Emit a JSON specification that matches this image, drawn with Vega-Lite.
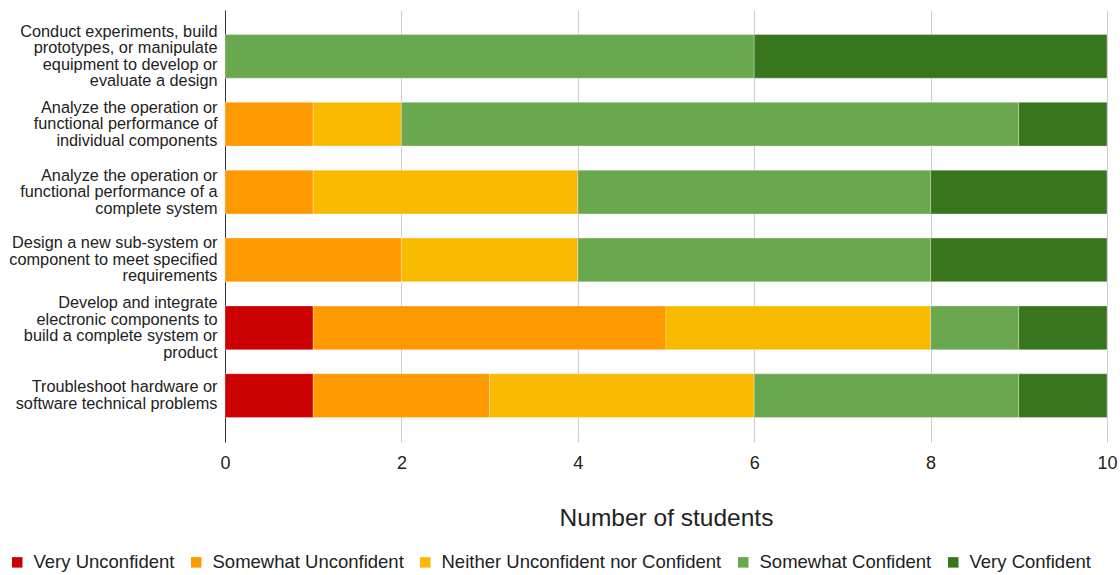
{
  "$schema": "https://vega.github.io/schema/vega-lite/v6.json",
  "width": 882,
  "height": 432,
  "autosize": {"type": "none"},
  "padding": {"left": 225, "top": 10, "right": 13, "bottom": 133},
  "config": {
    "font": "Liberation Sans",
    "view": {"stroke": null},
    "axis": {"labelFont": "Liberation Sans", "titleFont": "Liberation Sans"},
    "legend": {"labelFont": "Liberation Sans"}
  },
  "data": {
    "values": [
      {"q": "Conduct experiments, build|prototypes, or manipulate|equipment to develop or|evaluate a design", "level": "Somewhat Confident", "score": 4, "n": 6},
      {"q": "Conduct experiments, build|prototypes, or manipulate|equipment to develop or|evaluate a design", "level": "Very Confident", "score": 5, "n": 4},
      {"q": "Analyze the operation or|functional performance of|individual components", "level": "Somewhat Unconfident", "score": 2, "n": 1},
      {"q": "Analyze the operation or|functional performance of|individual components", "level": "Neither Unconfident nor Confident", "score": 3, "n": 1},
      {"q": "Analyze the operation or|functional performance of|individual components", "level": "Somewhat Confident", "score": 4, "n": 7},
      {"q": "Analyze the operation or|functional performance of|individual components", "level": "Very Confident", "score": 5, "n": 1},
      {"q": "Analyze the operation or|functional performance of a|complete system", "level": "Somewhat Unconfident", "score": 2, "n": 1},
      {"q": "Analyze the operation or|functional performance of a|complete system", "level": "Neither Unconfident nor Confident", "score": 3, "n": 3},
      {"q": "Analyze the operation or|functional performance of a|complete system", "level": "Somewhat Confident", "score": 4, "n": 4},
      {"q": "Analyze the operation or|functional performance of a|complete system", "level": "Very Confident", "score": 5, "n": 2},
      {"q": "Design a new sub-system or|component to meet specified|requirements", "level": "Somewhat Unconfident", "score": 2, "n": 2},
      {"q": "Design a new sub-system or|component to meet specified|requirements", "level": "Neither Unconfident nor Confident", "score": 3, "n": 2},
      {"q": "Design a new sub-system or|component to meet specified|requirements", "level": "Somewhat Confident", "score": 4, "n": 4},
      {"q": "Design a new sub-system or|component to meet specified|requirements", "level": "Very Confident", "score": 5, "n": 2},
      {"q": "Develop and integrate|electronic components to|build a complete system or|product", "level": "Very Unconfident", "score": 1, "n": 1},
      {"q": "Develop and integrate|electronic components to|build a complete system or|product", "level": "Somewhat Unconfident", "score": 2, "n": 4},
      {"q": "Develop and integrate|electronic components to|build a complete system or|product", "level": "Neither Unconfident nor Confident", "score": 3, "n": 3},
      {"q": "Develop and integrate|electronic components to|build a complete system or|product", "level": "Somewhat Confident", "score": 4, "n": 1},
      {"q": "Develop and integrate|electronic components to|build a complete system or|product", "level": "Very Confident", "score": 5, "n": 1},
      {"q": "Troubleshoot hardware or|software technical problems", "level": "Very Unconfident", "score": 1, "n": 1},
      {"q": "Troubleshoot hardware or|software technical problems", "level": "Somewhat Unconfident", "score": 2, "n": 2},
      {"q": "Troubleshoot hardware or|software technical problems", "level": "Neither Unconfident nor Confident", "score": 3, "n": 3},
      {"q": "Troubleshoot hardware or|software technical problems", "level": "Somewhat Confident", "score": 4, "n": 3},
      {"q": "Troubleshoot hardware or|software technical problems", "level": "Very Confident", "score": 5, "n": 1}
    ]
  },
  "mark": {"type": "bar", "stroke": "#ffffff", "strokeWidth": 0.5, "strokeOpacity": 0.6},
  "encoding": {
    "y": {
      "field": "q",
      "type": "nominal",
      "sort": null,
      "scale": {"paddingInner": 0.355, "paddingOuter": 0.36},
      "axis": {
        "title": null,
        "labelExpr": "split(datum.value, '|')",
        "labelFontSize": 16.3,
        "labelLineHeight": 16.5,
        "labelColor": "#222222",
        "labelLimit": 300,
        "labelPadding": 8,
        "labelOffset": {
          "condition": [
            {"test": "length(split(datum.value, '|')) == 4", "value": -24.75},
            {"test": "length(split(datum.value, '|')) == 3", "value": -16.5},
            {"test": "length(split(datum.value, '|')) == 2", "value": -8.25}
          ],
          "value": 0
        },
        "ticks": false,
        "domain": true,
        "domainColor": "#333333",
        "domainWidth": 1,
        "grid": false
      }
    },
    "x": {
      "field": "n",
      "type": "quantitative",
      "stack": "zero",
      "scale": {"domain": [0, 10], "nice": false},
      "axis": {
        "title": "Number of students",
        "titleFontSize": 24.5,
        "titleFontWeight": "normal",
        "titleColor": "#222222",
        "titlePadding": 34,
        "values": [0, 2, 4, 6, 8, 10],
        "labelFontSize": 18,
        "labelColor": "#222222",
        "labelPadding": 12,
        "labelFlush": false,
        "ticks": false,
        "domain": false,
        "grid": true,
        "gridColor": "#cccccc",
        "gridWidth": 1
      }
    },
    "color": {
      "field": "level",
      "type": "nominal",
      "sort": ["Very Unconfident", "Somewhat Unconfident", "Neither Unconfident nor Confident", "Somewhat Confident", "Very Confident"],
      "scale": {
        "domain": ["Very Unconfident", "Somewhat Unconfident", "Neither Unconfident nor Confident", "Somewhat Confident", "Very Confident"],
        "range": ["#cc0000", "#ff9900", "#f9bb02", "#6aa84f", "#38761d"]
      },
      "legend": {
        "title": null,
        "orient": "none",
        "direction": "horizontal",
        "legendX": -217,
        "legendY": 543,
        "symbolType": "square",
        "symbolSize": 110,
        "symbolStrokeWidth": 0,
        "labelFontSize": 18.5,
        "labelColor": "#222222",
        "labelOffset": 7,
        "columnPadding": 12,
        "labelLimit": 400
      }
    },
    "order": {"field": "score", "type": "quantitative", "sort": "ascending"}
  }
}
